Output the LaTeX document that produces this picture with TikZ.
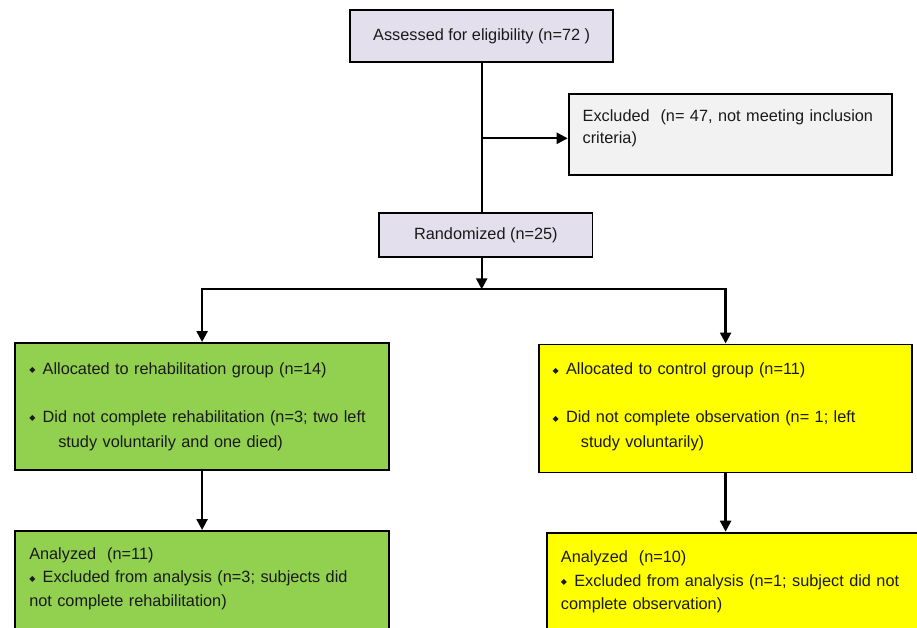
\documentclass[tikz,border=0pt]{standalone}
\usepackage{fontspec}
\setmainfont{Liberation Sans}
\newfontfamily\dejavu{DejaVu Sans}
\usepackage{tikz}
\usetikzlibrary{arrows.meta, positioning}
\definecolor{Ink}{HTML}{1A1A1A}
\definecolor{Lavender}{HTML}{E4DFEC}
\definecolor{GreyBox}{HTML}{F2F2F2}
\definecolor{RehabGreen}{HTML}{92D050}
\definecolor{CtrlYellow}{HTML}{FFFF00}
\newcommand{\itemdot}{\makebox[13.4pt][l]{\raisebox{1.4pt}{\dejavu\fontsize{8}{8}\selectfont ◆}}}

\begin{document}
\begin{tikzpicture}[x=1pt, y=-1pt, >={Triangle[length=11pt,width=11pt]},
  screen/.style={rectangle, draw=black, line width=1.9pt, fill=Lavender, text=Ink,
                 font=\fontsize{16.3}{22}\selectfont},
  panel/.style={rectangle, draw=black, line width=1.9pt, anchor=north west,
                inner ysep=0pt, align=left, text=Ink},
  arr/.style={->, line width=2.3pt, color=black}
]
\useasboundingbox (0,0) rectangle (917,627);
\fill[white] (0,0) rectangle (917,627);
\clip (0,0) rectangle (917,627);

%% ---- Screening ----
\node[screen, minimum width=263.3pt, minimum height=52.3pt] (assessed) at (481.7,36.2)
  {Assessed for eligibility (n=72 )};
\node[panel, fill=GreyBox, inner xsep=14pt, text width=295pt, text height=28pt,
      text depth=53.6pt, font=\fontsize{16.3}{22}\selectfont] (excluded) at (567.7,92.7)
  {Excluded~ (n= 47, not meeting inclusion\\criteria)};
\node[screen, minimum width=213.2pt, minimum height=44.6pt] (random) at (485.9,235)
  {Randomized (n=25)};

%% ---- Allocation ----
\node[panel, fill=RehabGreen, inner xsep=14.3pt, text width=345.7pt, text height=31.3pt,
      text depth=95.7pt, font=\fontsize{16.3}{25}\selectfont] (rehab) at (14,342)
  {\itemdot Allocated to rehabilitation group (n=14)\\[23pt]
   \itemdot Did not complete rehabilitation (n=3; two left\\
   \hspace*{29pt}study voluntarily and one died)};
\node[panel, fill=CtrlYellow, inner xsep=13.4pt, text width=345.9pt, text height=30.5pt,
      text depth=97.5pt, font=\fontsize{16.3}{25}\selectfont] (control) at (538.3,343.5)
  {\itemdot Allocated to control group (n=11)\\[23pt]
   \itemdot Did not complete observation (n= 1; left\\
   \hspace*{28.3pt}study voluntarily)};

%% ---- Analysis (boxes run past the bottom edge) ----
\node[panel, fill=RehabGreen, inner xsep=14.3pt, text width=345.7pt, text height=28.3pt,
      text depth=150pt, font=\fontsize{16.3}{23.5}\selectfont] (rehabana) at (14,530)
  {Analyzed~ (n=11)\\
   \itemdot Excluded from analysis (n=3; subjects did\\
   not complete rehabilitation)};
\node[panel, fill=CtrlYellow, inner xsep=14pt, text width=372pt, text height=30pt,
      text depth=150pt, font=\fontsize{16.3}{23.5}\selectfont] (controlana) at (546,531.7)
  {Analyzed~ (n=10)\\
   \itemdot Excluded from analysis (n=1; subject did not\\
   complete observation)};

%% ---- Flow ----
\coordinate (split) at (481.7,138.3);
\coordinate (fork)  at (481.7,289.3);
\draw[line width=2.3pt] (assessed.south) -- (assessed.south |- random.north);
\draw[arr] (split) -- (excluded.west |- split);
\draw[arr] (random.south -| fork) -- (fork);
\draw[arr] (fork) -| (rehab.north);
\draw[arr] (fork) -| (control.north);
\draw[arr] (rehab) -- (rehabana);
\draw[arr] (control.south) -- (control.south |- controlana.north);

\end{tikzpicture}
\end{document}
